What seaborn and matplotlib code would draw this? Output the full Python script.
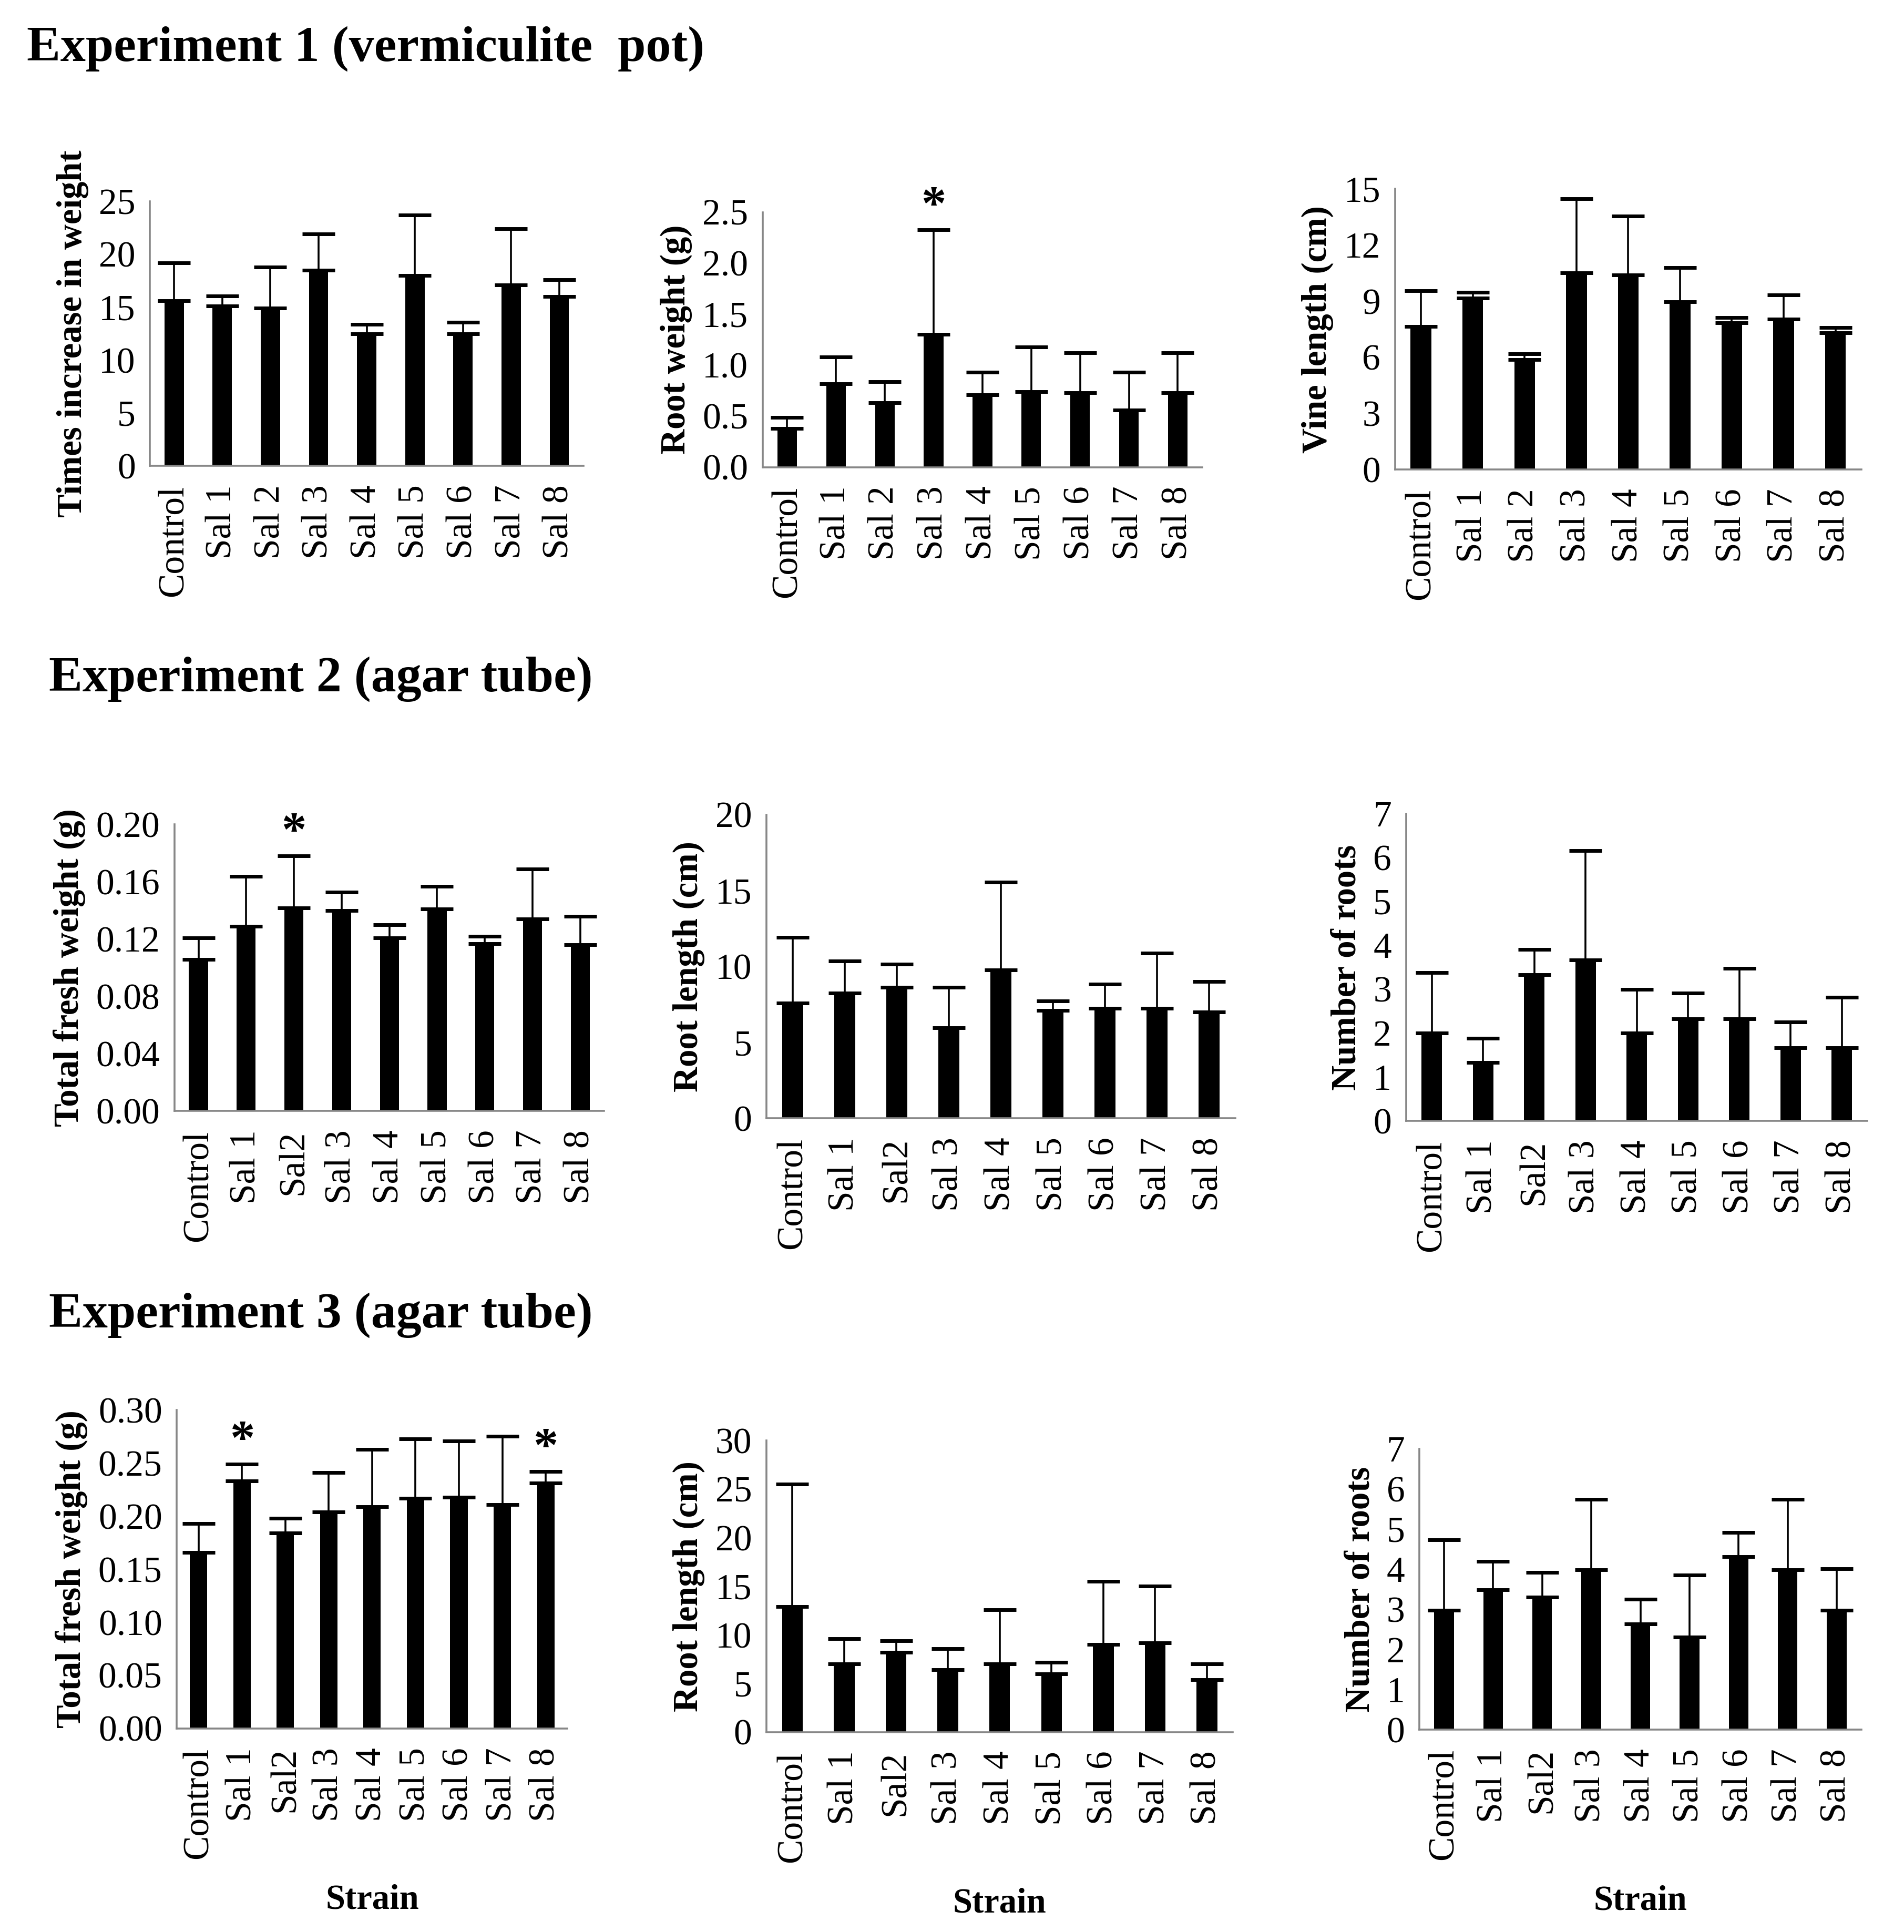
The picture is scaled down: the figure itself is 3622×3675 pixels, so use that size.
import numpy as np
import pandas as pd
import matplotlib
matplotlib.use("Agg")
import matplotlib.pyplot as plt
import seaborn as sns
from matplotlib.ticker import FormatStrFormatter

# ---------------- data ----------------
strains_exp1 = ["Control", "Sal 1", "Sal 2", "Sal 3", "Sal 4", "Sal 5", "Sal 6", "Sal 7", "Sal 8"]
strains_exp23 = ["Control", "Sal 1", "Sal2", "Sal 3", "Sal 4", "Sal 5", "Sal 6", "Sal 7", "Sal 8"]

# Experiment 1 (vermiculite pot)
e1_times_mean = [15.6, 15.1, 14.9, 18.5, 12.5, 18.0, 12.5, 17.1, 16.0]
e1_times_err = [3.6, 0.95, 3.9, 3.4, 0.9, 5.7, 1.1, 5.3, 1.6]
e1_root_mean = [0.38, 0.82, 0.63, 1.30, 0.71, 0.74, 0.73, 0.56, 0.73]
e1_root_err = [0.11, 0.26, 0.21, 1.03, 0.22, 0.44, 0.39, 0.37, 0.39]
e1_vine_mean = [7.64, 9.17, 5.87, 10.5, 10.4, 8.97, 7.83, 8.04, 7.31]
e1_vine_err = [1.91, 0.30, 0.32, 3.97, 3.14, 1.82, 0.30, 1.30, 0.29]

# Experiment 2 (agar tube)
e2_fw_mean = [0.106, 0.129, 0.142, 0.140, 0.121, 0.141, 0.117, 0.134, 0.116]
e2_fw_err = [0.015, 0.035, 0.036, 0.013, 0.009, 0.016, 0.005, 0.035, 0.020]
e2_rl_mean = [7.6, 8.26, 8.64, 5.98, 9.78, 7.10, 7.24, 7.24, 7.0]
e2_rl_err = [4.31, 2.11, 1.51, 2.65, 5.79, 0.65, 1.62, 3.65, 2.0]
e2_nr_mean = [2.0, 1.33, 3.33, 3.67, 2.0, 2.33, 2.33, 1.67, 1.67]
e2_nr_err = [1.38, 0.55, 0.58, 2.49, 1.0, 0.58, 1.15, 0.58, 1.15]

# Experiment 3 (agar tube)
e3_fw_mean = [0.166, 0.233, 0.184, 0.204, 0.209, 0.217, 0.218, 0.211, 0.231]
e3_fw_err = [0.027, 0.016, 0.014, 0.037, 0.054, 0.056, 0.053, 0.064, 0.011]
e3_rl_mean = [12.9, 7.0, 8.2, 6.4, 7.0, 6.0, 9.0, 9.2, 5.4]
e3_rl_err = [12.6, 2.6, 1.2, 2.2, 5.6, 1.2, 6.5, 5.8, 1.6]
e3_nr_mean = [2.97, 3.49, 3.31, 3.98, 2.64, 2.31, 4.31, 3.98, 2.97]
e3_nr_err = [1.77, 0.71, 0.61, 1.77, 0.61, 1.55, 0.61, 1.77, 1.04]

# significance markers (index of strain)
e1_root_stars = [3]
e2_fw_stars = [2]
e3_fw_stars = [1, 8]

titles = ["Experiment 1 (vermiculite  pot)", "Experiment 2 (agar tube)", "Experiment 3 (agar tube)"]

# ---------------- style ----------------
sns.set_style("white")
plt.rcParams["font.family"] = ["Liberation Serif", "DejaVu Serif"]
plt.rcParams["text.color"] = "black"
plt.rcParams["axes.labelcolor"] = "black"
plt.rcParams["xtick.color"] = "black"
plt.rcParams["ytick.color"] = "black"
AXIS_GREY = "#878787"
TICK_FS = 50
LABEL_FS = 48

fig = plt.figure(figsize=(36.22, 36.75), dpi=100)
fig.patch.set_facecolor("white")


def panel(rect, cats, mean, err, ylabel, yticks, fmt, stars=(), xlabel=None):
    ax = fig.add_axes(rect)
    n = len(cats)
    df = pd.DataFrame({"Strain": cats, "Value": mean})
    sns.barplot(data=df, x="Strain", y="Value", color="black", saturation=1,
                width=0.4, errorbar=None, linewidth=0, ax=ax)
    x = np.arange(n)
    ax.errorbar(x, mean, yerr=[np.zeros(n), err], fmt="none", ecolor="black",
                elinewidth=2.6, capsize=22, capthick=5, clip_on=False, zorder=3)
    for i in stars:
        ax.annotate("*", xy=(i, mean[i] + err[i]), xytext=(0, 0),
                    textcoords="offset points", ha="center", va="bottom",
                    fontsize=68, fontweight="bold", color="black")
    ax.set_xlim(-0.5, n - 0.5)
    ax.set_ylim(yticks[0], yticks[-1])
    for s in ["top", "right"]:
        ax.spines[s].set_visible(False)
    for s in ["left", "bottom"]:
        ax.spines[s].set_color(AXIS_GREY)
        ax.spines[s].set_linewidth(2.6)
    ax.set_yticks(yticks)
    ax.yaxis.set_major_formatter(FormatStrFormatter(fmt))
    ax.tick_params(axis="y", length=14, width=2.6, color=AXIS_GREY,
                   labelsize=TICK_FS, pad=6, labelcolor="black")
    ax.set_xticks(x)
    ax.set_xticklabels(cats, rotation=90, ha="center", va="top")
    ax.set_xticks(np.arange(-0.5, n, 1.0), minor=True)
    ax.tick_params(axis="x", which="major", length=0, pad=26,
                   labelsize=TICK_FS, labelcolor="black")
    ax.tick_params(axis="x", which="minor", length=22, width=2.6, color=AXIS_GREY)
    ax.set_ylabel(ylabel, fontsize=LABEL_FS, fontweight="bold", labelpad=14, color="black")
    if xlabel:
        ax.set_xlabel(xlabel, fontsize=LABEL_FS, fontweight="bold", labelpad=34, color="black")
    else:
        ax.set_xlabel("")
    ax.grid(False)
    return ax


# Row 1
panel([0.0788, 0.7588, 0.2276, 0.1370], strains_exp1, e1_times_mean, e1_times_err,
      "Times increase in weight", [0, 5, 10, 15, 20, 25], "%d")
panel([0.4006, 0.7582, 0.2308, 0.1320], strains_exp1, e1_root_mean, e1_root_err,
      "Root weight (g)", [0, 0.5, 1.0, 1.5, 2.0, 2.5], "%.1f", e1_root_stars)
panel([0.7327, 0.7570, 0.2449, 0.1452], strains_exp1, e1_vine_mean, e1_vine_err,
      "Vine length (cm)", [0, 3, 6, 9, 12, 15], "%d")

# Row 2
panel([0.0917, 0.4249, 0.2256, 0.1483], strains_exp23, e2_fw_mean, e2_fw_err,
      "Total fresh weight (g)", [0, 0.04, 0.08, 0.12, 0.16, 0.20], "%.2f", e2_fw_stars)
panel([0.4026, 0.4211, 0.2461, 0.1572], strains_exp23, e2_rl_mean, e2_rl_err,
      "Root length (cm)", [0, 5, 10, 15, 20], "%d")
panel([0.7385, 0.4198, 0.2423, 0.1591], strains_exp23, e2_nr_mean, e2_nr_err,
      "Number of roots", [0, 1, 2, 3, 4, 5, 6, 7], "%d")

# Row 3
panel([0.0929, 0.1054, 0.2051, 0.1648], strains_exp23, e3_fw_mean, e3_fw_err,
      "Total fresh weight (g)", [0, 0.05, 0.10, 0.15, 0.20, 0.25, 0.30], "%.2f",
      e3_fw_stars, xlabel="Strain")
panel([0.4026, 0.1035, 0.2449, 0.1509], strains_exp23, e3_rl_mean, e3_rl_err,
      "Root length (cm)", [0, 5, 10, 15, 20, 25, 30], "%d", xlabel="Strain")
panel([0.7455, 0.1048, 0.2321, 0.1452], strains_exp23, e3_nr_mean, e3_nr_err,
      "Number of roots", [0, 1, 2, 3, 4, 5, 6, 7], "%d", xlabel="Strain")

# Section titles
fig.text(0.0141, 0.9747, titles[0], fontsize=69, fontweight="bold", va="center", ha="left", color="black")
fig.text(0.0256, 0.6484, titles[1], fontsize=69, fontweight="bold", va="center", ha="left", color="black")
fig.text(0.0256, 0.3194, titles[2], fontsize=69, fontweight="bold", va="center", ha="left", color="black")

fig.savefig("out.png", dpi=100, facecolor="white")
